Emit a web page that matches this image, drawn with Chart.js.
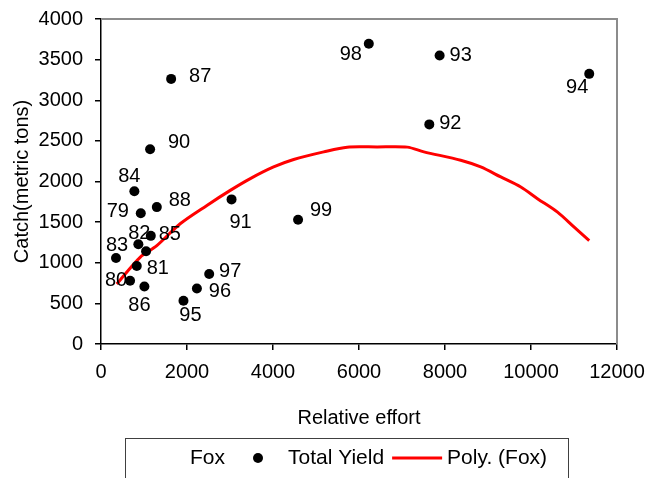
<!DOCTYPE html>
<html>
<head>
<meta charset="utf-8">
<title>Fox model - catch vs effort</title>
<script src="https://cdn.jsdelivr.net/npm/chart.js@4.4.1/dist/chart.umd.min.js"></script>
<style>
    html, body { margin: 0; padding: 0; background: #ffffff; }
    #wrap { width: 651px; height: 478px; }
</style>
</head>
<body>
<div id="wrap"><canvas id="chartFox" width="651" height="478"></canvas></div>
<script>
// Datos (anio, esfuerzo relativo, captura)
const years = ['79', '80', '81', '82', '83', '84', '85', '86', '87', '88', '89',
               '90', '91', '92', '93', '94', '95', '96', '97', '98', '99'];
const effort = [925, 676, 832, 869, 349, 776, 1158, 1009, 1631, 1298, 1048,
                1142, 3036, 7635, 7875, 11354, 1918, 2230, 2516, 6228, 4583];
const catchTons = [1610, 779, 960, 1227, 1059, 1879, 1331, 708, 3263, 1685, 1141,
                   2398, 1780, 2703, 3551, 3325, 532, 684, 862, 3696, 1529];

// Curva de tendencia polinomica (Poly. (Fox)) leida punto a punto
const foxEffort = [366, 909, 1298, 1841, 2463, 3006, 3472, 4014, 4480, 5179, 5725,
                   6420, 7123, 7509, 8365, 8831, 9297, 9763, 10151, 10617, 11004, 11354];
const foxCatch = [738, 1067, 1211, 1480, 1706, 1891, 2036, 2179, 2271, 2365, 2423,
                  2425, 2423, 2365, 2262, 2179, 2056, 1932, 1789, 1623, 1438, 1273];

const xTicks = [0, 2000, 4000, 6000, 8000, 10000, 12000];
const yTicks = [0, 500, 1000, 1500, 2000, 2500, 3000, 3500, 4000];

// Desplazamiento de cada etiqueta respecto a su punto (px); 89 no tiene etiqueta
const labelOffset = {
    '79': [-23, -2], '80': [-14, 0], '81': [21, 2], '82': [1, -11], '83': [1, -12],
    '84': [-5, -15], '85': [19, -1], '86': [-5, 19], '87': [29, -2], '88': [23, -7],
    '90': [29, -7], '91': [9, 23], '92': [21, -1], '93': [21, 0], '94': [-12, 14],
    '95': [7, 15], '96': [23, 3], '97': [21, -2], '98': [-18, 11], '99': [23, -9]
};

const FONT = "'Liberation Sans', Arial, sans-serif";

// Etiquetas de anio junto a cada punto
const pointLabels = {
    id: 'pointLabels',
    afterDatasetsDraw(chart) {
        const ctx = chart.ctx;
        const meta = chart.getDatasetMeta(1);
        ctx.save();
        ctx.font = '20px ' + FONT;
        ctx.fillStyle = '#000';
        ctx.textAlign = 'center';
        ctx.textBaseline = 'middle';
        meta.data.forEach((pt, i) => {
            const off = labelOffset[years[i]];
            if (!off) return;
            ctx.fillText(years[i], pt.x + off[0], pt.y + off[1]);
        });
        ctx.restore();
    }
};

// Borde gris del area de trazado (arriba y derecha)
const plotBorder = {
    id: 'plotBorder',
    beforeDatasetsDraw(chart) {
        const {ctx, chartArea: a} = chart;
        ctx.save();
        ctx.strokeStyle = '#8c8c8c';
        ctx.lineWidth = 2;
        ctx.beginPath();
        ctx.moveTo(a.left, a.top);
        ctx.lineTo(a.right, a.top);
        ctx.lineTo(a.right, a.bottom);
        ctx.stroke();
        ctx.restore();
    }
};

// Leyenda con recuadro al pie, estilo Excel
const boxLegend = {
    id: 'boxLegend',
    afterDraw(chart) {
        const ctx = chart.ctx;
        const left = 125, top = 438, width = 443;
        ctx.save();
        ctx.strokeStyle = '#404040';
        ctx.lineWidth = 1;
        ctx.strokeRect(left + 0.5, top + 0.5, width, 60);
        ctx.font = '21px ' + FONT;
        ctx.textBaseline = 'middle';
        ctx.textAlign = 'left';
        const cy = 458;
        let x = left + 10;
        chart.data.datasets.forEach(ds => {
            const mid = x + 25;
            if (ds.legendSymbol === 'dot') {
                ctx.fillStyle = '#000';
                ctx.beginPath();
                ctx.arc(mid, cy, 5, 0, Math.PI * 2);
                ctx.fill();
            } else if (ds.legendSymbol === 'line') {
                ctx.strokeStyle = ds.borderColor;
                ctx.lineWidth = 3;
                ctx.beginPath();
                ctx.moveTo(x, cy);
                ctx.lineTo(x + 50, cy);
                ctx.stroke();
            }
            x += 55;
            ctx.fillStyle = '#000';
            ctx.fillText(ds.label, x, cy);
            x += ctx.measureText(ds.label).width + 8;
        });
        ctx.restore();
    }
};

const ctx = document.getElementById('chartFox');
new Chart(ctx, {
    type: 'scatter',
    data: {
        datasets: [
            {
                label: 'Fox',
                legendSymbol: 'none',
                data: [],
                pointRadius: 0,
                showLine: false
            },
            {
                label: 'Total Yield',
                legendSymbol: 'dot',
                data: effort.map((e, i) => ({x: e, y: catchTons[i]})),
                pointRadius: 5,
                pointHoverRadius: 5,
                backgroundColor: '#000',
                borderColor: '#000',
                borderWidth: 0
            },
            {
                label: 'Poly. (Fox)',
                legendSymbol: 'line',
                data: foxEffort.map((e, i) => ({x: e, y: foxCatch[i]})),
                showLine: true,
                borderColor: '#ff0000',
                borderWidth: 3,
                tension: 0.3,
                pointRadius: 0,
                fill: false
            }
        ]
    },
    options: {
        responsive: false,
        animation: false,
        events: [],
        layout: { padding: { top: 19, right: 34, left: 0, bottom: 0 } },
        plugins: {
            legend: { display: false },
            tooltip: { enabled: false }
        },
        scales: {
            x: {
                type: 'linear',
                min: 0,
                max: 12000,
                afterBuildTicks: s => { s.ticks = xTicks.map(v => ({value: v})); },
                afterFit: s => { s.height = 134; s.paddingLeft = 0; s.paddingRight = 0; },
                ticks: {
                    color: '#000', font: { family: FONT, size: 20 }, padding: 10, maxRotation: 0,
                    callback: v => String(v)
                },
                grid: { drawOnChartArea: false, color: '#000', tickLength: 6, lineWidth: 1.5 },
                border: { color: '#000', width: 1.5 },
                title: {
                    display: true,
                    text: 'Relative effort',
                    color: '#000',
                    font: { family: FONT, size: 20 },
                    padding: { top: 4, bottom: 48 }
                }
            },
            y: {
                min: 0,
                max: 4000,
                afterBuildTicks: s => { s.ticks = yTicks.map(v => ({value: v})); },
                afterFit: s => { s.width = 101; s.paddingTop = 0; s.paddingBottom = 0; },
                ticks: {
                    color: '#000', font: { family: FONT, size: 20 }, padding: 12,
                    callback: v => String(v)
                },
                grid: { drawOnChartArea: false, color: '#000', tickLength: 6, lineWidth: 1.5 },
                border: { color: '#000', width: 1.5 },
                title: {
                    display: true,
                    text: 'Catch(metric tons)',
                    color: '#000',
                    font: { family: FONT, size: 20 },
                    padding: { top: 10, bottom: 0 }
                }
            }
        }
    },
    plugins: [plotBorder, pointLabels, boxLegend]
});
</script>
</body>
</html>
